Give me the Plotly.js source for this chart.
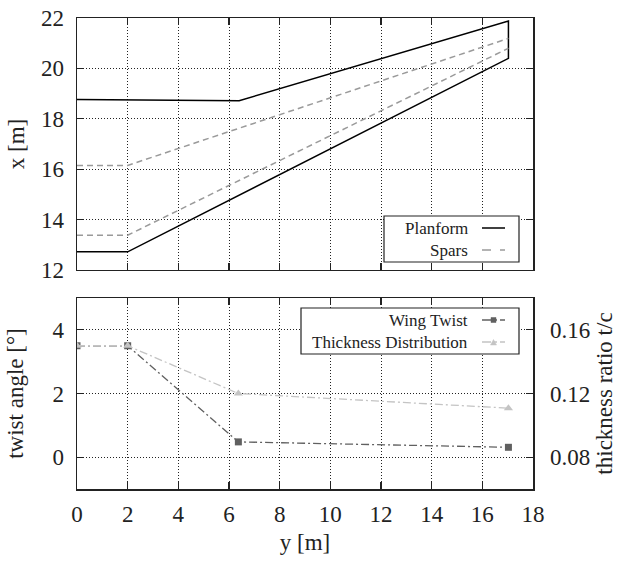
<!DOCTYPE html>
<html><head><meta charset="utf-8">
<script src="https://cdn.plot.ly/plotly-3.0.1.min.js"></script>
<style>body{margin:0}#c{width:622px;height:563px}</style>
</head><body><div id="c"></div>
<script>
// Planform outline (span y, chordwise x)
const planY = [0, 2, 17.03, 17.03, 6.4, 2, 0];
const planX = [12.72, 12.72, 20.4, 21.88, 18.72, 18.77, 18.77];
// Spars
const frontSparY = [0, 2, 17.03];
const frontSparX = [13.38, 13.38, 20.8];
const rearSparY = [0, 2, 17.03];
const rearSparX = [16.15, 16.15, 21.19];
// Twist and thickness distributions
const stationY = [0, 2, 6.37, 17.03];
const twist = [3.5, 3.5, 0.48, 0.31];
const thickness = [0.15, 0.15, 0.12, 0.1108];
const xTicks = [0, 2, 4, 6, 8, 10, 12, 14, 16, 18];

const F = 'Liberation Serif';
const TS = 23;
const traces = [
  {x: planY, y: planX, xaxis:'x', yaxis:'y', mode:'lines', name:'Planform', line:{color:'#000', width:1.5}, showlegend:false},
  {x: frontSparY, y: frontSparX, xaxis:'x', yaxis:'y', mode:'lines', name:'Spars', line:{color:'#9a9a9a', width:1.5, dash:'6px,4px'}, showlegend:false},
  {x: rearSparY, y: rearSparX, xaxis:'x', yaxis:'y', mode:'lines', name:'Spars', line:{color:'#9a9a9a', width:1.5, dash:'6px,4px'}, showlegend:false},
  {x: stationY, y: thickness, xaxis:'x2', yaxis:'y3', mode:'lines+markers', name:'Thickness Distribution', line:{color:'#c4c4c4', width:1.3, dash:'8px,3px,2px,3px'}, marker:{symbol:'triangle-up', size:8, color:'#c4c4c4'}, showlegend:false},
  {x: stationY, y: twist, xaxis:'x2', yaxis:'y2', mode:'lines+markers', name:'Wing Twist', line:{color:'#606060', width:1.3, dash:'8px,3px,2px,3px'}, marker:{symbol:'square', size:7, color:'#606060'}, showlegend:false}
];
const ax = {showline:true, linecolor:'#222', linewidth:1.5, mirror:'ticks', ticks:'inside', ticklen:7, tickcolor:'#222', tickwidth:1.2,
  showgrid:true, gridcolor:'#222', griddash:'1px,2px', gridwidth:1, zeroline:false, tickfont:{family:F, size:TS, color:'#222'}};
const layout = {
  width:622, height:563, margin:{l:77, r:89, t:18, b:74},
  paper_bgcolor:'#fff', plot_bgcolor:'#fff', showlegend:false,
  xaxis: Object.assign({}, ax, {domain:[0,1], range:[0,18], tickvals:xTicks, showticklabels:false, anchor:'y'}),
  yaxis: Object.assign({}, ax, {domain:[0.465,1], range:[12,22], dtick:2, anchor:'x', ticklabelstandoff:7,
    title:{text:'x [m]', font:{family:F, size:TS, color:'#222'}, standoff:10}}),
  xaxis2: Object.assign({}, ax, {domain:[0,1], range:[0,18], tickvals:xTicks, ticktext:xTicks.map(String), anchor:'y2', ticklabelstandoff:4,
    title:{text:'y [m]', font:{family:F, size:TS, color:'#222'}, standoff:8}}),
  yaxis2: Object.assign({}, ax, {domain:[0,0.4055], range:[-1,5], tickvals:[0,2,4], anchor:'x2', mirror:true, ticklabelstandoff:7,
    title:{text:'twist angle [°]', font:{family:F, size:TS, color:'#222'}, standoff:22}}),
  yaxis3: Object.assign({}, ax, {overlaying:'y2', side:'right', range:[0.06,0.18], tickvals:[0.08,0.12,0.16], ticktext:['0.08','0.12','0.16'], showgrid:false, showline:false, mirror:false, anchor:'x2', ticklabelstandoff:16,
    title:{text:'thickness ratio t/c', font:{family:F, size:TS, color:'#222'}, standoff:6}}),
  shapes: [
    {type:'rect', xref:'paper', yref:'paper', x0:(384-77)/456, x1:(519-77)/456, y0:(489-262)/471, y1:(489-216)/471, line:{color:'#222', width:1.2}, fillcolor:'#fff', layer:'above'},
    {type:'line', xref:'paper', yref:'paper', x0:(482-77)/456, x1:(505-77)/456, y0:(489-228)/471, y1:(489-228)/471, line:{color:'#000', width:1.5}},
    {type:'line', xref:'paper', yref:'paper', x0:(482-77)/456, x1:(505-77)/456, y0:(489-250)/471, y1:(489-250)/471, line:{color:'#9a9a9a', width:1.5, dash:'dash'}},
    {type:'rect', xref:'paper', yref:'paper', x0:(301-77)/456, x1:(519-77)/456, y0:(489-354)/471, y1:(489-308)/471, line:{color:'#222', width:1.2}, fillcolor:'#fff', layer:'above'},
    {type:'line', xref:'paper', yref:'paper', x0:(482-77)/456, x1:(505-77)/456, y0:(489-320)/471, y1:(489-320)/471, line:{color:'#606060', width:1.3, dash:'dashdot'}},
    {type:'rect', xref:'paper', yref:'paper', x0:(491-77)/456, x1:(496-77)/456, y0:(489-322.5)/471, y1:(489-317.5)/471, line:{color:'#606060', width:0.5}, fillcolor:'#606060'},
    {type:'line', xref:'paper', yref:'paper', x0:(482-77)/456, x1:(505-77)/456, y0:(489-342)/471, y1:(489-342)/471, line:{color:'#c4c4c4', width:1.3, dash:'dashdot'}},
    {type:'path', xref:'paper', yref:'paper', path:'M '+((490.5-77)/456)+' '+((489-345)/471)+' L '+((496.5-77)/456)+' '+((489-345)/471)+' L '+((493.5-77)/456)+' '+((489-339.5)/471)+' Z', line:{color:'#c4c4c4', width:0.5}, fillcolor:'#c4c4c4'}
  ],
  annotations: [
    {xref:'paper', yref:'paper', x:(470-77)/456, y:(489-228)/471, xanchor:'right', yanchor:'middle', text:'Planform', showarrow:false, font:{family:F, size:17, color:'#222'}},
    {xref:'paper', yref:'paper', x:(470-77)/456, y:(489-250)/471, xanchor:'right', yanchor:'middle', text:'Spars', showarrow:false, font:{family:F, size:17, color:'#222'}},
    {xref:'paper', yref:'paper', x:(470-77)/456, y:(489-320)/471, xanchor:'right', yanchor:'middle', text:'Wing Twist', showarrow:false, font:{family:F, size:17, color:'#222'}},
    {xref:'paper', yref:'paper', x:(470-77)/456, y:(489-342)/471, xanchor:'right', yanchor:'middle', text:'Thickness Distribution', showarrow:false, font:{family:F, size:17, color:'#222'}}
  ]
};
Plotly.newPlot('c', traces, layout, {staticPlot:true});
</script></body></html>
